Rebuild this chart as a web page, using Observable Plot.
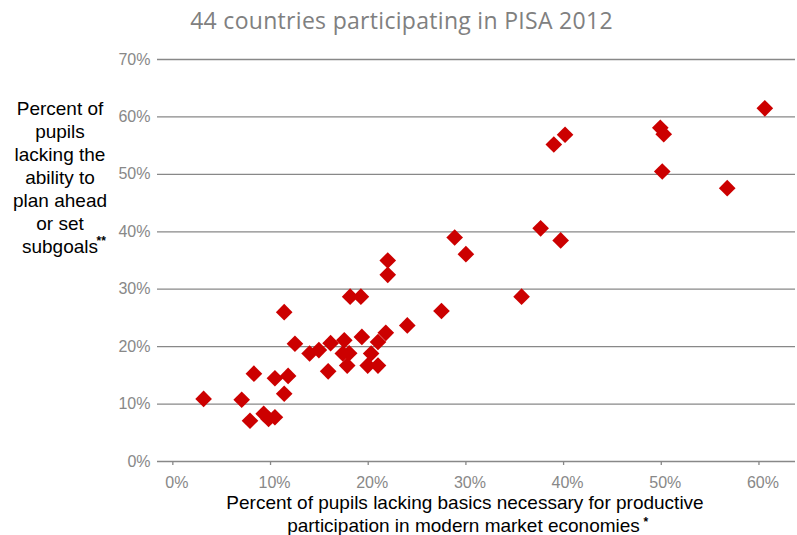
<!DOCTYPE html>
<html><head><meta charset="utf-8">
<script src="https://cdn.jsdelivr.net/npm/d3@7"></script>
<script src="https://cdn.jsdelivr.net/npm/@observablehq/plot@0.6"></script>
<style>
body{margin:0;background:#fff;}
#title{width:797px;height:45px;box-sizing:border-box;padding-top:9px;padding-left:6px;font-family:"Open Sans",sans-serif;font-size:23px;line-height:23px;letter-spacing:0.3px;color:#808080;text-align:center;}
</style></head><body>
<div id="title"></div>
<div id="chart"></div>
<script>
const titleText = "44 countries participating in PISA 2012";
// Percent of pupils lacking basics (x) and lacking planning ability (y)
const basicsLacking = [3.15, 7.05, 7.9, 8.3, 9.3, 9.8, 10.45, 10.45, 11.4, 11.4, 11.8, 12.5, 14.0, 14.95, 15.9, 16.15, 17.55, 17.4, 18.05, 17.85, 18.15, 19.25, 19.35, 20.3, 19.95, 21.0, 21.0, 21.8, 22.0, 22.0, 24.0, 27.5, 28.85, 30.0, 35.7, 37.65, 39.7, 39.0, 40.15, 49.9, 50.25, 50.1, 56.75, 60.6];
const planningLacking = [10.9, 10.75, 7.1, 15.3, 8.3, 7.4, 7.7, 14.5, 26.0, 11.8, 14.9, 20.5, 18.8, 19.4, 15.7, 20.6, 21.1, 18.8, 18.85, 16.7, 28.7, 28.7, 21.7, 18.8, 16.7, 16.7, 20.8, 22.4, 32.5, 35.0, 23.7, 26.2, 39.0, 36.1, 28.7, 40.6, 38.5, 55.2, 56.9, 58.1, 57.0, 50.5, 47.6, 61.5];
const xTicks = [0, 10, 20, 30, 40, 50, 60];
const yTicks = [0, 10, 20, 30, 40, 50, 60, 70];
const yLabel = "Percent of\npupils\nlacking the\nability to\nplan ahead\nor set\nsubgoals";
const xLabelLine1 = "Percent of pupils lacking basics necessary for productive";
const xLabelLine2 = "participation in modern market economies";

document.getElementById("title").textContent = titleText;

const points = basicsLacking.map((x, i) => ({x, y: planningLacking[i]}));
const fmt = d => d + "%";
const gray = "#888888";
const ML = 157, MT = 14;

const chart = Plot.plot({
  width: 797,
  height: 490,
  marginLeft: ML,
  marginRight: 2,
  marginTop: MT,
  marginBottom: 74,
  style: {background: "white", fontFamily: "Arial, 'Liberation Sans', sans-serif", overflow: "visible"},
  x: {domain: [-1.57, 63.74], label: null},
  y: {domain: [0, 70], label: null},
  marks: [
    Plot.ruleY(yTicks, {stroke: gray, strokeWidth: 1.3}),
    Plot.axisY({ticks: yTicks, tickFormat: fmt, tickSize: 0, tickPadding: 7, fontSize: 16, color: gray, label: null}),
    Plot.axisX({ticks: xTicks, tickFormat: () => "", tickSize: 4, color: gray, strokeWidth: 1.3, label: null}),
    Plot.axisX({ticks: xTicks, tickFormat: fmt, tickSize: 0, tickPadding: 15, dx: 4, fontSize: 16, color: gray, label: null}),
    Plot.dot(points, {x: "x", y: "y", symbol: "diamond2", r: 7.5, fill: "#cc0000", stroke: "none"}),
    Plot.text([yLabel], {text: d => d, frameAnchor: "top-left", dx: 59.5 - ML, dy: 131 - MT, textAnchor: "middle", lineAnchor: "middle", lineHeight: 1.215, fontSize: 19, fill: "black"}),
    Plot.text(["**"], {text: d => d, frameAnchor: "top-left", dx: 96 - ML, dy: 196 - MT, textAnchor: "start", lineAnchor: "middle", fontSize: 12, fontWeight: "bold", fill: "black"}),
    Plot.text([xLabelLine1], {text: d => d, frameAnchor: "top-left", dx: 464.5 - ML, dy: 457.5 - MT, textAnchor: "middle", lineAnchor: "middle", fontSize: 19, fill: "black"}),
    Plot.text([xLabelLine2], {text: d => d, frameAnchor: "top-left", dx: 463 - ML, dy: 480 - MT, textAnchor: "middle", lineAnchor: "middle", fontSize: 19, fill: "black"}),
    Plot.text(["*"], {text: d => d, frameAnchor: "top-left", dx: 643 - ML, dy: 477 - MT, textAnchor: "start", lineAnchor: "middle", fontSize: 12, fontWeight: "bold", fill: "black"})
  ]
});
document.getElementById("chart").appendChild(chart);
</script></body></html>
